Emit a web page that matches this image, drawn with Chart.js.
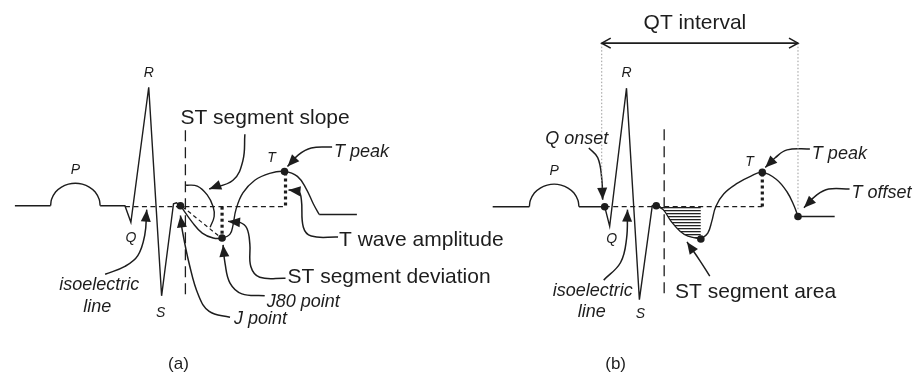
<!DOCTYPE html>
<html>
<head>
<meta charset="utf-8">
<script src="https://cdn.jsdelivr.net/npm/chart.js@4.4.0/dist/chart.umd.min.js"></script>
<style>
  html, body { margin: 0; padding: 0; background: #fff; }
  #wrap { width: 915px; height: 384px; position: relative; }
</style>
</head>
<body>
<div id="wrap"><canvas id="ecg"></canvas></div>
<script>
// ---- panel (a) waveform ----
const waveA_lead = [[11, 206], [47, 206]];
const waveA_P = [[47, 206], [48, 199.5], [52, 192], [58, 187], [65, 184], [72, 183], [79, 184], [86, 187], [92, 192], [96, 199.5], [97, 206]];
const waveA_QRS = [[97, 206], [122, 206], [128, 223], [146, 85], [159, 298], [171, 204], [174, 203], [178, 206]];
const waveA_STT = [[178, 206], [190, 223], [200, 234], [211, 239], [220, 239], [228, 235], [231, 226], [234, 210], [241, 193], [253, 180], [268, 173], [283, 171], [296, 176], [305, 189], [312, 204], [318, 215]];
const waveA_tail = [[318, 215], [356, 215]];
const dotsA = [[178, 206], [220, 239], [283, 171]];

// ---- panel (b) waveform ----
const waveB_lead = [[493, 207], [530, 207]];
const waveB_P = [[530, 207], [531, 200.5], [535, 193], [541, 188], [548, 185], [555, 184], [562, 185], [569, 188], [575, 193], [579, 200.5], [580, 207]];
const waveB_QRS = [[580, 207], [606, 207], [611, 227], [628, 86], [641, 302], [654, 206], [658, 206]];
const waveB_ST = [[658, 206], [665, 210], [673, 222], [682, 232], [690, 237], [703, 240]];
const waveB_T = [[703, 240], [710, 234], [714, 222], [718, 207], [726, 194], [740, 183], [753, 176], [765, 172], [779, 179], [790, 192], [797, 206], [801, 217]];
const waveB_tail = [[801, 217], [838, 217]];
const dotsB = [[606, 207], [658, 206], [703, 240], [765, 172], [801, 217]];

// ---- guide lines ----
const isoA = [[122, 207], [284, 207]];
const isoB = [[606, 207], [765, 207]];
const stDevA = [[220, 207], [220, 238]];
const tAmpA = [[284, 172], [284, 207]];
const tAmpB = [[765, 173], [765, 207]];
const slopeLineA = [[180, 207], [218, 238]];
const slopeArcA = [[183, 185], [195, 186], [205, 195], [211, 207], [212, 217], [208, 228]];
const markerA = [[183, 129], [183, 300]];
const markerB = [[666, 128], [666, 298]];
const qtLeft = [[603, 40], [603, 200]];
const qtRight = [[801, 40], [801, 210]];
const qtSpan = [[603, 40], [801, 40]];

// ---- pointer arrows (tail -> tip) ----
const arrowIsoA = [[102, 276], [122, 268], [135, 257], [142, 236], [144, 210]];
const arrowJ = [[228, 320], [207, 314], [196, 297], [187, 266], [180, 232], [178, 216]];
const arrowJ80 = [[263, 298], [240, 296], [228, 285], [223, 265], [221, 246]];
const arrowDev = [[284, 280], [258, 279], [249, 268], [248, 245], [245, 229], [238, 223], [226, 222]];
const arrowTAmp = [[337, 238], [310, 237], [302, 228], [300, 200], [297, 191], [287, 190]];
const arrowTPeakA = [[331, 146], [310, 147], [297, 154], [286, 166]];
const arrowSlope = [[243, 133], [241, 160], [231, 180], [207, 189]];
const arrowQOnset = [[590, 147], [599, 157], [603, 178], [604, 200]];
const arrowIsoB = [[605, 282], [622, 264], [628, 240], [629, 210]];
const arrowArea = [[712, 278], [702, 262], [689, 243]];
const arrowTPeakB = [[813, 148], [790, 149], [778, 157], [768, 167]];
const arrowTOffset = [[853, 189], [832, 189], [820, 195], [807, 208]];

// ---- text ----
const textLabels = [
  { text: 'P', x: 72, y: 170, kind: 'wave' },
  { text: 'R', x: 146, y: 71, kind: 'wave' },
  { text: 'Q', x: 128, y: 239, kind: 'wave' },
  { text: 'S', x: 158, y: 316, kind: 'wave' },
  { text: 'T', x: 270, y: 157, kind: 'wave' },
  { text: 'isoelectric', x: 96, y: 287, kind: 'tag', align: 'center' },
  { text: 'line', x: 94, y: 309, kind: 'tag', align: 'center' },
  { text: 'J point', x: 232, y: 322, kind: 'tag' },
  { text: 'J80 point', x: 265, y: 304, kind: 'tag' },
  { text: 'T peak', x: 333, y: 151, kind: 'tag' },
  { text: 'ST segment slope', x: 178, y: 117, kind: 'name' },
  { text: 'T wave amplitude', x: 338, y: 241, kind: 'name' },
  { text: 'ST segment deviation', x: 286, y: 279, kind: 'name' },
  { text: '(a)', x: 176, y: 368, kind: 'panel', align: 'center' },
  { text: 'P', x: 555, y: 171, kind: 'wave' },
  { text: 'R', x: 628, y: 71, kind: 'wave' },
  { text: 'Q', x: 613, y: 240, kind: 'wave' },
  { text: 'S', x: 642, y: 317, kind: 'wave' },
  { text: 'T', x: 752, y: 161, kind: 'wave' },
  { text: 'Q onset', x: 546, y: 138, kind: 'tag' },
  { text: 'isoelectric', x: 594, y: 293, kind: 'tag', align: 'center' },
  { text: 'line', x: 593, y: 315, kind: 'tag', align: 'center' },
  { text: 'ST segment area', x: 677, y: 294, kind: 'name' },
  { text: 'T peak', x: 815, y: 153, kind: 'tag' },
  { text: 'T offset', x: 855, y: 193, kind: 'tag' },
  { text: 'QT interval', x: 697, y: 20, kind: 'name', align: 'center' },
  { text: '(b)', x: 617, y: 368, kind: 'panel', align: 'center' }
];

const INK = '#1d1d1d';
const FAMILY = '"Liberation Sans", Arial, sans-serif';
const fonts = {
  wave: 'italic 14px ' + FAMILY,
  tag: 'italic 18px ' + FAMILY,
  name: '21px ' + FAMILY,
  panel: '17px ' + FAMILY
};

function toXY(pts) {
  return pts.map(([x, y]) => ({ x, y }));
}

function line(pts, opts = {}) {
  return Object.assign({
    data: toXY(pts),
    borderColor: INK,
    backgroundColor: INK,
    borderWidth: 1.4,
    pointRadius: 0,
    tension: 0,
    fill: false,
    clip: false
  }, opts);
}

function hatchPattern() {
  const c = document.createElement('canvas');
  c.width = 4;
  c.height = 3;
  const g = c.getContext('2d');
  g.fillStyle = '#222';
  g.fillRect(0, 0, 4, 1);
  g.fillStyle = 'rgba(0,0,0,0.25)';
  g.fillRect(0, 1, 4, 1);
  return g.createPattern(c, 'repeat');
}

function drawHead(ctx, from, tip, open) {
  const ang = Math.atan2(tip.y - from.y, tip.x - from.x);
  const len = open ? 9 : 12;
  const half = 5;
  const bx = tip.x - len * Math.cos(ang);
  const by = tip.y - len * Math.sin(ang);
  const px = -Math.sin(ang) * half;
  const py = Math.cos(ang) * half;
  ctx.save();
  ctx.beginPath();
  ctx.moveTo(bx + px, by + py);
  ctx.lineTo(tip.x, tip.y);
  ctx.lineTo(bx - px, by - py);
  if (open) {
    ctx.strokeStyle = INK;
    ctx.lineWidth = 1.6;
    ctx.stroke();
  } else {
    ctx.closePath();
    ctx.fillStyle = INK;
    ctx.fill();
  }
  ctx.restore();
}

const arrowPlugin = {
  id: 'arrowHeads',
  afterDatasetsDraw(chart) {
    const ctx = chart.ctx;
    chart.data.datasets.forEach((ds, i) => {
      if (!ds.arrow) return;
      const pts = chart.getDatasetMeta(i).data;
      const n = pts.length;
      const last = pts[n - 1];
      const prev = (last.cp1x !== undefined && Math.hypot(last.cp1x - last.x, last.cp1y - last.y) > 0.5)
        ? { x: last.cp1x, y: last.cp1y } : pts[n - 2];
      drawHead(ctx, prev, last, ds.arrow === 'both');
      if (ds.arrow === 'both') drawHead(ctx, pts[1], pts[0], true);
    });
  }
};

const textPlugin = {
  id: 'textLabels',
  afterDraw(chart) {
    const ctx = chart.ctx;
    const sx = chart.scales.x;
    const sy = chart.scales.y;
    ctx.save();
    ctx.fillStyle = INK;
    ctx.textBaseline = 'middle';
    textLabels.forEach(l => {
      ctx.font = fonts[l.kind];
      ctx.textAlign = l.align || (l.kind === 'wave' ? 'center' : 'left');
      ctx.fillText(l.text, sx.getPixelForValue(l.x), sy.getPixelForValue(l.y));
    });
    ctx.restore();
  }
};

const curve = { tension: 0.4 };
const longDash = { borderDash: [11, 6], borderWidth: 1.3 };
const isoDash = { borderDash: [5, 3.5], borderWidth: 1.3 };
const thickDot = { borderDash: [3, 3], borderWidth: 3.2 };
const qtDot = { borderDash: [1.5, 2], borderWidth: 1, borderColor: '#9a9a9a' };
const pointer = { tension: 0.4, borderWidth: 1.5, arrow: 'end' };
const dotStyle = { showLine: false, pointRadius: 3.8, pointBackgroundColor: INK, pointBorderWidth: 0 };

const datasets = [
  line(waveB_ST, { tension: 0.4, fill: { value: 207 }, backgroundColor: hatchPattern() }),
  line(isoA, isoDash),
  line(isoB, isoDash),
  line(markerA, longDash),
  line(markerB, longDash),
  line(slopeLineA, { borderDash: [4, 3], borderWidth: 1.2 }),
  line(stDevA, thickDot),
  line(tAmpA, thickDot),
  line(tAmpB, thickDot),
  line(qtLeft, qtDot),
  line(qtRight, qtDot),
  line(qtSpan, { borderWidth: 1.6, arrow: 'both' }),
  line(waveA_lead),
  line(waveA_P, curve),
  line(waveA_QRS),
  line(waveA_STT, curve),
  line(waveA_tail),
  line(slopeArcA, curve),
  line(waveB_lead),
  line(waveB_P, curve),
  line(waveB_QRS),
  line(waveB_T, curve),
  line(waveB_tail),
  line(arrowIsoA, pointer),
  line(arrowJ, pointer),
  line(arrowJ80, pointer),
  line(arrowDev, pointer),
  line(arrowTAmp, pointer),
  line(arrowTPeakA, pointer),
  line(arrowSlope, pointer),
  line(arrowQOnset, pointer),
  line(arrowIsoB, pointer),
  line(arrowArea, pointer),
  line(arrowTPeakB, pointer),
  line(arrowTOffset, pointer),
  line(dotsA, dotStyle),
  line(dotsB, dotStyle)
];

new Chart(document.getElementById('ecg').getContext('2d'), {
  type: 'line',
  data: { datasets },
  options: {
    responsive: true,
    maintainAspectRatio: false,
    animation: false,
    events: [],
    layout: { padding: 0 },
    plugins: { legend: { display: false }, tooltip: { enabled: false } },
    scales: {
      x: { type: 'linear', min: 0, max: 915, display: false },
      y: { type: 'linear', min: 0, max: 384, reverse: true, display: false }
    }
  },
  plugins: [arrowPlugin, textPlugin]
});
</script>
</body>
</html>
